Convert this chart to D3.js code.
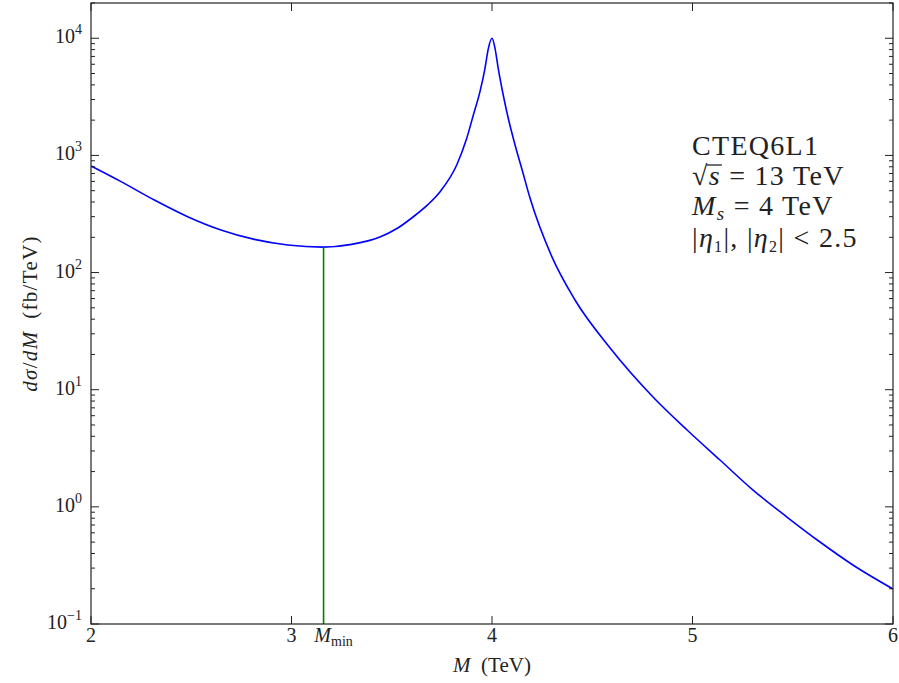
<!DOCTYPE html>
<html>
<head>
<meta charset="utf-8">
<script src="https://cdn.jsdelivr.net/npm/d3@7"></script>
<style>
  body { margin: 0; background: #fff; }
  text { font-family: "Liberation Serif", "DejaVu Serif", serif; fill: #222; }
</style>
</head>
<body>
<div id="chart"></div>
<script>
// mass in TeV and dsigma/dM in fb/TeV
var massValues = [2.0, 2.15, 2.316, 2.482, 2.648, 2.815, 2.981, 3.157,
                  3.30, 3.441, 3.53, 3.606, 3.68, 3.741, 3.824, 3.874, 3.907, 3.940, 3.965, 3.982, 4.0,
                  4.015, 4.031, 4.056, 4.081, 4.115, 4.148, 4.190, 4.299, 4.414, 4.589,
                  4.803, 4.973, 5.137, 5.302, 5.471, 5.636, 5.800, 6.0];
var sigmaValues = [813, 597, 416, 300, 231, 192, 172, 165,
                   174, 201, 240, 298, 380, 490, 828, 1400, 2213, 3500, 5540, 8200, 10000,
                   8200, 5540, 3280, 2075, 1227, 776, 430, 136, 58.3, 22.7,
                   8.67, 4.53, 2.51, 1.39, 0.819, 0.501, 0.319, 0.199];
var mMin = 3.16;
var sigmaAtMin = 165;

var xTicks = [2, 3, 4, 5, 6];
var yTickExps = [-1, 0, 1, 2, 3, 4];
var xDomain = [2, 6];
var yDomain = [0.1, 2e4];

var margin = {top: 3, right: 6, bottom: 59, left: 91};
var width = 899 - margin.left - margin.right;
var height = 683 - margin.top - margin.bottom;

var svg = d3.select("#chart").append("svg")
    .attr("width", 899)
    .attr("height", 683)
    .attr("xmlns", "http://www.w3.org/2000/svg");

var g = svg.append("g")
    .attr("transform", "translate(" + margin.left + "," + margin.top + ")");

var x = d3.scaleLinear().domain(xDomain).range([0, width]);
var y = d3.scaleLog().domain(yDomain).range([height, 0]);

var points = massValues.map(function(m, i){ return {m: m, s: sigmaValues[i]}; });

// curve
var line = d3.line()
    .x(function(d){ return x(d.m); })
    .y(function(d){ return y(d.s); })
    .curve(d3.curveMonotoneX);

g.append("path")
    .datum(points)
    .attr("d", line)
    .attr("fill", "none")
    .attr("stroke", "#0000ff")
    .attr("stroke-width", 1.6);

// M_min marker
g.append("line")
    .attr("x1", x(mMin)).attr("x2", x(mMin))
    .attr("y1", y(yDomain[0])).attr("y2", y(sigmaAtMin))
    .attr("stroke", "#008000")
    .attr("stroke-width", 1.6);

// minor ticks for the log axis
var minorVals = [];
yTickExps.forEach(function(e){
    for (var k = 2; k <= 9; k++){
        var v = k * Math.pow(10, e);
        if (v <= yDomain[1]) minorVals.push(v);
    }
});

var tickColor = "#222";

// left + right ticks
[0, width].forEach(function(xPos, side){
    var dir = side == 0 ? 1 : -1;
    yTickExps.forEach(function(e){
        var v = Math.pow(10, e);
        g.append("line")
            .attr("x1", xPos).attr("x2", xPos + dir * 8)
            .attr("y1", y(v)).attr("y2", y(v))
            .attr("stroke", tickColor).attr("stroke-width", 1);
    });
    minorVals.forEach(function(v){
        g.append("line")
            .attr("x1", xPos).attr("x2", xPos + dir * 4)
            .attr("y1", y(v)).attr("y2", y(v))
            .attr("stroke", tickColor).attr("stroke-width", 1);
    });
});

// bottom + top ticks
[height, 0].forEach(function(yPos, side){
    var dir = side == 0 ? -1 : 1;
    xTicks.forEach(function(t){
        g.append("line")
            .attr("x1", x(t)).attr("x2", x(t))
            .attr("y1", yPos).attr("y2", yPos + dir * 8)
            .attr("stroke", tickColor).attr("stroke-width", 1);
    });
});

// frame
g.append("rect")
    .attr("x", 0).attr("y", 0)
    .attr("width", width).attr("height", height)
    .attr("fill", "none")
    .attr("stroke", tickColor)
    .attr("stroke-width", 1.2);

// y tick labels
yTickExps.forEach(function(e){
    var t = g.append("text")
        .attr("x", -9)
        .attr("y", y(Math.pow(10, e)) + 5)
        .attr("text-anchor", "end")
        .attr("font-size", 20);
    t.append("tspan").text("10");
    t.append("tspan")
        .attr("font-size", 14)
        .attr("dy", -9)
        .text(e < 0 ? "\u2212" + Math.abs(e) : String(e));
});

// x tick labels
xTicks.forEach(function(t){
    g.append("text")
        .attr("x", x(t))
        .attr("y", height + 18)
        .attr("text-anchor", "middle")
        .attr("font-size", 20)
        .text(String(t));
});

var mm = g.append("text")
    .attr("x", x(mMin) + 10)
    .attr("y", height + 18)
    .attr("text-anchor", "middle")
    .attr("font-size", 20);
mm.append("tspan").attr("font-style", "italic").text("M");
mm.append("tspan").attr("font-size", 14).attr("dy", 4).text("min");

// x axis label
var xl = g.append("text")
    .attr("x", width / 2)
    .attr("y", height + 48)
    .attr("text-anchor", "middle")
    .attr("font-size", 21);
xl.append("tspan").attr("font-style", "italic").text("M");
xl.append("tspan").text("\u2002(TeV)");

// y axis label
var yl = g.append("text")
    .attr("transform", "translate(" + (-54) + "," + (height / 2) + ") rotate(-90)")
    .attr("text-anchor", "middle")
    .attr("letter-spacing", 1.3)
    .attr("font-size", 21);
yl.append("tspan").attr("font-style", "italic").text("d\u03c3");
yl.append("tspan").text("/");
yl.append("tspan").attr("font-style", "italic").text("dM");
yl.append("tspan").text("\u2002(fb/TeV)");

// info text block
var lx = 601;
var info = g.append("text")
    .attr("font-size", 28)
    .attr("letter-spacing", 1.3);

info.append("tspan").attr("x", lx).attr("y", 152).text("CTEQ6L1");

info.append("tspan").attr("x", lx).attr("y", 182).text("\u221a");
var sSpan = info.append("tspan").attr("font-style", "italic").text("s");
info.append("tspan").text(" = 13 TeV");

info.append("tspan").attr("x", lx).attr("y", 212).attr("font-style", "italic").text("M");
info.append("tspan").attr("font-size", 19).attr("font-style", "italic").attr("dy", 5).text("s");
info.append("tspan").attr("dy", -5).text(" = 4 TeV");

info.append("tspan").attr("x", lx).attr("y", 244).text("|");
info.append("tspan").attr("font-style", "italic").text("\u03b7");
info.append("tspan").attr("font-size", 16).attr("dy", 5).text("1");
info.append("tspan").attr("dy", -5).text("|, |");
info.append("tspan").attr("font-style", "italic").text("\u03b7");
info.append("tspan").attr("font-size", 16).attr("dy", 5).text("2");
info.append("tspan").attr("dy", -5).text("| < 2.5");

// bar of the square root, over the s
var sStart = sSpan.node().getStartPositionOfChar(0).x;
var sEnd = sSpan.node().getEndPositionOfChar(0).x;
g.append("line")
    .attr("x1", sStart - 2)
    .attr("x2", sEnd + 1)
    .attr("y1", 182 - 20)
    .attr("y2", 182 - 20)
    .attr("stroke", "#222")
    .attr("stroke-width", 1.3);
</script>
</body>
</html>
